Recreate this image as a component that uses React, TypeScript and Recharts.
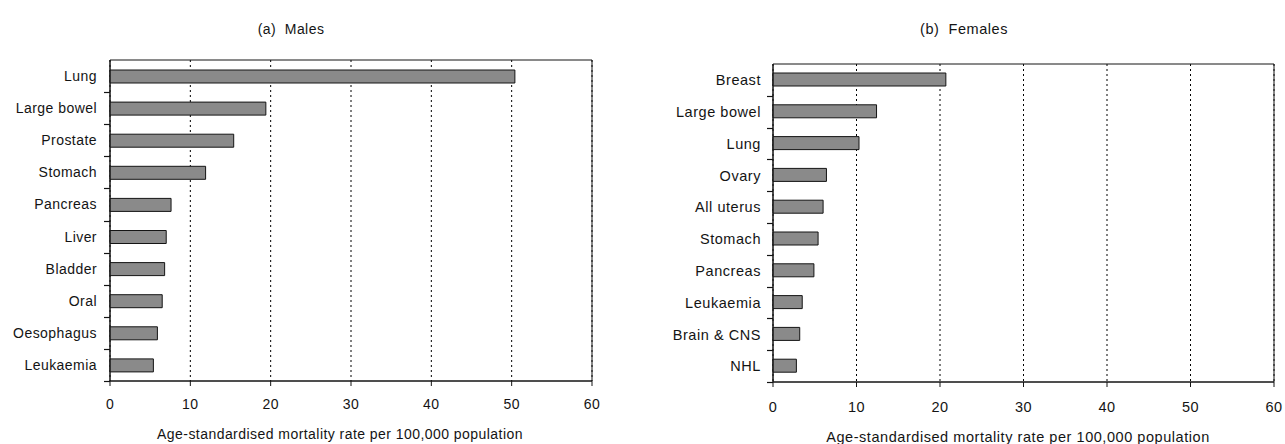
import { BarChart, Bar, XAxis, YAxis, CartesianGrid, ReferenceArea } from 'recharts';

const maleSites = ['Lung', 'Large bowel', 'Prostate', 'Stomach', 'Pancreas', 'Liver', 'Bladder', 'Oral', 'Oesophagus', 'Leukaemia'];
const maleRates = [50.4, 19.4, 15.4, 11.9, 7.6, 7.0, 6.8, 6.5, 5.9, 5.4];

const femaleSites = ['Breast', 'Large bowel', 'Lung', 'Ovary', 'All uterus', 'Stomach', 'Pancreas', 'Leukaemia', 'Brain & CNS', 'NHL'];
const femaleRates = [20.7, 12.4, 10.3, 6.4, 6.0, 5.4, 4.9, 3.5, 3.2, 2.8];

const xTicks = [0, 10, 20, 30, 40, 50, 60];

const FONT = '"Liberation Sans", Arial, Helvetica, sans-serif';
const INK = '#141414';

type PanelProps = {
    title: string;
    sites: string[];
    rates: number[];
    left: number;
    width: number;
    height: number;
    yAxisWidth: number;
    margin: { top: number; right: number; bottom: number; left: number };
    fontSize: number;
    spacing: number;
    labelGap: number;
    xTickMargin: number;
    barSize: number;
    titleX: number;
    axisTitleX: number;
    axisTitleY: number;
};

const Panel = ({
    title,
    sites,
    rates,
    left,
    width,
    height,
    yAxisWidth,
    margin,
    fontSize,
    spacing,
    labelGap,
    xTickMargin,
    barSize,
    titleX,
    axisTitleX,
    axisTitleY,
}: PanelProps) => {
    const data = sites.map((name, i) => ({ name, rate: rates[i] }));
    const plotHeight = height - margin.top - margin.bottom - 30;
    const half = plotHeight / sites.length / 2;
    const axisX = margin.left + yAxisWidth;

    // category labels plus Excel-style tick marks on the band boundaries
    const renderSiteTick = (props: any) => {
        const { payload } = props;
        const y = Number(payload.coordinate ?? props.y);
        const ty = Math.round(y + half) + 0.5;
        return (
            <g>
                <path d={`M${axisX - 6},${ty}H${axisX}`} stroke={INK} strokeWidth={1.2} fill="none" />
                <text
                    x={axisX - labelGap}
                    y={y}
                    dy="0.36em"
                    textAnchor="end"
                    fontSize={fontSize}
                    letterSpacing={spacing}
                    fill={INK}
                    fontFamily={FONT}
                >
                    {payload.value}
                </text>
            </g>
        );
    };

    const textStyle = {
        position: 'absolute' as const,
        fontFamily: FONT,
        fontSize,
        letterSpacing: spacing,
        color: INK,
        whiteSpace: 'pre' as const,
        transform: 'translate(-50%, -50%)',
        lineHeight: 1,
    };

    return (
        <div style={{ position: 'absolute', left, top: 0, width, height }}>
            <div style={{ ...textStyle, left: titleX - left, top: 29 }}>{title}</div>
            <BarChart
                width={width}
                height={height}
                data={data}
                layout="vertical"
                margin={margin}
                barCategoryGap={0}
            >
                <CartesianGrid horizontal={false} stroke="#000" strokeDasharray="2 3" />
                <ReferenceArea x1={0} x2={60} fill="none" stroke={INK} strokeWidth={1} ifOverflow="visible" />
                <XAxis
                    type="number"
                    domain={[0, 60]}
                    ticks={xTicks}
                    interval={0}
                    height={30}
                    tickSize={5}
                    tickMargin={xTickMargin}
                    axisLine={{ stroke: INK }}
                    tickLine={{ stroke: INK }}
                    tick={{ fontSize, fill: INK, fontFamily: FONT, letterSpacing: spacing }}
                />
                <YAxis
                    type="category"
                    dataKey="name"
                    width={yAxisWidth}
                    interval={0}
                    tickSize={0}
                    tickMargin={labelGap}
                    axisLine={{ stroke: INK }}
                    tickLine={false}
                    tick={renderSiteTick}
                />
                <Bar
                    dataKey="rate"
                    fill="#8a8a8a"
                    stroke={INK}
                    strokeWidth={1}
                    barSize={barSize}
                    isAnimationActive={false}
                />
            </BarChart>
            <div style={{ ...textStyle, left: axisTitleX - left, top: axisTitleY }}>
                Age-standardised mortality rate per 100,000 population
            </div>
        </div>
    );
};

export default function App() {
    return (
        <div
            style={{
                position: 'absolute',
                left: 0,
                top: 0,
                width: 1285,
                height: 444,
                background: '#fff',
                overflow: 'hidden',
            }}
        >
            <Panel
                title="(a)  Males"
                sites={maleSites}
                rates={maleRates}
                left={0}
                width={640}
                height={444}
                yAxisWidth={110}
                margin={{ top: 60, right: 48, bottom: 33, left: 0 }}
                fontSize={14}
                spacing={0.45}
                labelGap={13}
                xTickMargin={13}
                barSize={13}
                titleX={291}
                axisTitleX={340}
                axisTitleY={434}
            />
            <Panel
                title="(b)  Females"
                sites={femaleSites}
                rates={femaleRates}
                left={640}
                width={645}
                height={444}
                yAxisWidth={133}
                margin={{ top: 64, right: 11, bottom: 32, left: 0 }}
                fontSize={14.5}
                spacing={0.55}
                labelGap={12}
                xTickMargin={15}
                barSize={13}
                titleX={964}
                axisTitleX={1018}
                axisTitleY={437}
            />
        </div>
    );
}
